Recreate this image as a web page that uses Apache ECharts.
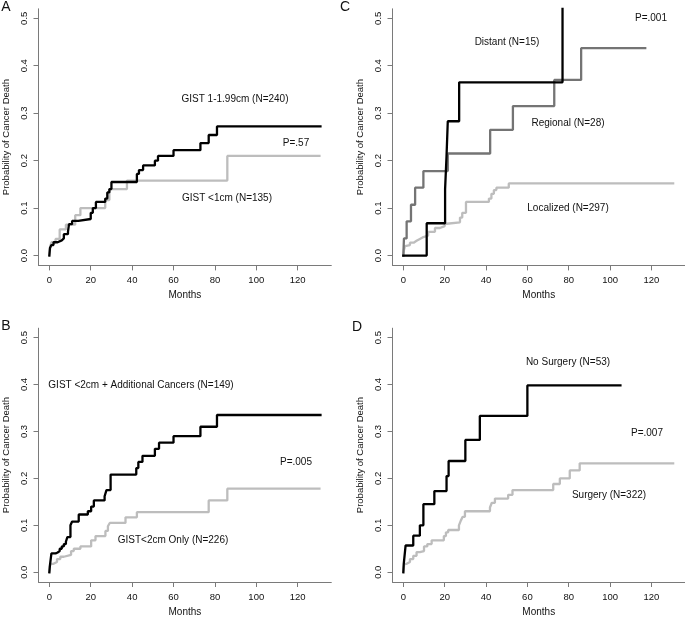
<!DOCTYPE html>
<html>
<head>
<meta charset="utf-8">
<script src="https://cdn.jsdelivr.net/npm/echarts@6/dist/echarts.min.js"></script>
<style>
  html, body { margin: 0; padding: 0; background: #fff; }
  #chart { width: 685px; height: 618px; }
</style>
</head>
<body>
<div id="chart"></div>
<script>
// tick labels
const monthTicks = [0, 20, 40, 60, 80, 100, 120]
const probTicks = [0, 0.1, 0.2, 0.3, 0.4, 0.5]

// panel A: tumour size
const aLarge = [[0, 0], [0.3, 0.016], [1, 0.022], [2, 0.028], [4, 0.032], [6, 0.036], [7, 0.045], [9, 0.05], [9.5, 0.066], [11, 0.073], [14, 0.077], [20, 0.09], [21, 0.1], [22.5, 0.113], [27, 0.12], [28, 0.133], [29, 0.14], [30, 0.155], [42.3, 0.172], [43.3, 0.18], [45.3, 0.19], [51, 0.2], [52.5, 0.21], [60, 0.222], [73, 0.237], [77, 0.254], [81, 0.272], [131, 0.272]]
const aSmall = [[0, 0], [0.5, 0.02], [1, 0.028], [3, 0.035], [5, 0.055], [8, 0.065], [12.5, 0.085], [15, 0.1], [27, 0.117], [29, 0.14], [37.5, 0.158], [86, 0.21], [130.5, 0.21]]

// panel B: additional cancers
const bAdditional = [[0, 0], [0.3, 0.015], [1, 0.04], [3, 0.042], [4, 0.045], [5, 0.05], [6, 0.055], [7, 0.06], [8, 0.065], [8.7, 0.075], [10.2, 0.1], [11, 0.108], [14.2, 0.123], [18.6, 0.13], [20.2, 0.14], [21.5, 0.153], [26.7, 0.162], [27.6, 0.175], [29.6, 0.208], [42, 0.222], [43, 0.235], [45, 0.248], [51, 0.263], [53, 0.276], [60, 0.29], [73, 0.31], [81, 0.335], [131, 0.335]]
const bOnly = [[0, 0], [0.2, 0.012], [0.6, 0.018], [2, 0.022], [3.7, 0.028], [5.3, 0.033], [7, 0.037], [10.5, 0.045], [11.8, 0.05], [15, 0.055], [20.2, 0.068], [22.3, 0.077], [27.1, 0.088], [28.3, 0.098], [29.2, 0.105], [36.8, 0.117], [42.3, 0.128], [77, 0.153], [86, 0.178], [130.5, 0.178]]

// panel C: stage
const cDistant = [[0, 0], [11.3, 0.068], [20.2, 0.14], [20.9, 0.21], [21.5, 0.283], [27, 0.365], [77, 0.6]]
const cRegional = [[0, 0], [0.3, 0.036], [1.6, 0.072], [3.7, 0.107], [5.7, 0.143], [9.7, 0.178], [21.5, 0.215], [42, 0.265], [53, 0.315], [73, 0.37], [86, 0.437], [117, 0.437]]
const cLocalized = [[0, 0], [0.3, 0.012], [0.8, 0.02], [1.6, 0.022], [3.2, 0.027], [5, 0.031], [6.4, 0.035], [8, 0.039], [9.7, 0.042], [12, 0.05], [15.3, 0.058], [17.7, 0.062], [20, 0.067], [21, 0.07], [27.4, 0.08], [28.5, 0.09], [30.3, 0.113], [41.4, 0.12], [42.6, 0.13], [43.8, 0.138], [45, 0.143], [51, 0.152], [130.5, 0.152]]

// panel D: surgery
const dNoSurgery = [[0, 0], [0.2, 0.018], [1.1, 0.057], [4.8, 0.078], [8, 0.1], [9.7, 0.145], [15, 0.173], [20.9, 0.205], [21.9, 0.237], [30, 0.282], [37, 0.333], [60, 0.398], [105, 0.398]]
const dSurgery = [[0, 0], [0.2, 0.01], [0.5, 0.018], [1.6, 0.022], [3.2, 0.028], [4.8, 0.035], [6.4, 0.043], [8, 0.045], [10, 0.055], [11.6, 0.06], [13.7, 0.068], [19.6, 0.077], [20.6, 0.085], [21.7, 0.09], [26.9, 0.1], [27.8, 0.11], [28.7, 0.118], [29.8, 0.13], [41.9, 0.138], [42.8, 0.148], [44.3, 0.157], [50.7, 0.165], [52.8, 0.175], [72.5, 0.188], [75.7, 0.2], [80.5, 0.217], [85.3, 0.232], [130.5, 0.232]]

const axisGray = '#7a7a7a'
const font = 'Liberation Sans, Arial, sans-serif'
const black = '#000'
const light = '#bdbdbd'
const dark = '#747474'

const grids = [
  { left: 38.5, top: 8.8, width: 292.8, height: 256.6 },
  { left: 392.5, top: 8.8, width: 292.8, height: 256.6 },
  { left: 38.5, top: 328.2, width: 292.8, height: 256 },
  { left: 392.5, top: 328.2, width: 292.8, height: 256 }
]

const xAxes = grids.map((g, i) => ({
  gridIndex: i,
  type: 'value',
  min: -5.24,
  max: 136.24,
  name: 'Months',
  nameLocation: 'middle',
  nameGap: 25,
  nameTextStyle: { fontSize: 10, color: '#111', fontFamily: font },
  axisLine: { show: true, onZero: false, lineStyle: { color: axisGray, width: 1 } },
  axisTick: { show: true, length: 5, customValues: monthTicks, lineStyle: { color: axisGray } },
  axisLabel: { customValues: monthTicks, fontSize: 9.5, color: '#111', margin: 10, fontFamily: font },
  splitLine: { show: false }
}))

const yAxes = grids.map((g, i) => ({
  gridIndex: i,
  type: 'value',
  min: -0.0208,
  max: 0.52,
  name: 'Probability of Cancer Death',
  nameLocation: 'middle',
  nameGap: 27,
  nameRotate: 90,
  nameTextStyle: { fontSize: 9.5, color: '#111', fontFamily: font },
  axisLine: { show: true, onZero: false, lineStyle: { color: axisGray, width: 1 } },
  axisTick: { show: true, length: 5, customValues: probTicks, lineStyle: { color: axisGray } },
  axisLabel: {
    customValues: probTicks, fontSize: 9.5, color: '#111', margin: 9, rotate: 90, fontFamily: font,
    align: 'center', verticalAlign: 'bottom',
    formatter: v => v.toFixed(1)
  },
  splitLine: { show: false }
}))

function curve (data, idx, color, z) {
  return {
    type: 'line',
    xAxisIndex: idx,
    yAxisIndex: idx,
    data: data,
    step: 'end',
    showSymbol: false,
    symbol: 'none',
    z: z,
    lineStyle: { color: color, width: 2.3, cap: 'square' },
    animation: false
  }
}

function label (text, x, y, size) {
  return {
    type: 'text',
    x: x,
    y: y,
    style: {
      text: text,
      fill: '#111',
      font: (size || 10) + 'px ' + font,
      align: 'center',
      verticalAlign: 'middle'
    }
  }
}

const chart = echarts.init(document.getElementById('chart'))
chart.setOption({
  animation: false,
  grid: grids,
  xAxis: xAxes,
  yAxis: yAxes,
  series: [
    curve(aSmall, 0, light, 2),
    curve(aLarge, 0, black, 3),
    curve(cLocalized, 1, light, 2),
    curve(cRegional, 1, dark, 3),
    curve(cDistant, 1, black, 4),
    curve(bOnly, 2, light, 2),
    curve(bAdditional, 2, black, 3),
    curve(dSurgery, 3, light, 2),
    curve(dNoSurgery, 3, black, 3)
  ],
  graphic: [
    label('A', 6, 7, 14),
    label('C', 345, 7, 14),
    label('B', 6, 326, 14),
    label('D', 357, 327, 14),
    label('GIST 1-1.99cm (N=240)', 235, 99),
    label('P=.57', 296, 143),
    label('GIST <1cm (N=135)', 227, 198),
    label('P=.001', 651, 18),
    label('Distant (N=15)', 507, 42),
    label('Regional (N=28)', 568, 123),
    label('Localized (N=297)', 568, 208),
    label('GIST <2cm + Additional Cancers (N=149)', 141, 385),
    label('P=.005', 296, 462),
    label('GIST<2cm Only (N=226)', 173, 540),
    label('No Surgery (N=53)', 568, 362),
    label('P=.007', 647, 433),
    label('Surgery (N=322)', 609, 495)
  ]
})
</script>
</body>
</html>
